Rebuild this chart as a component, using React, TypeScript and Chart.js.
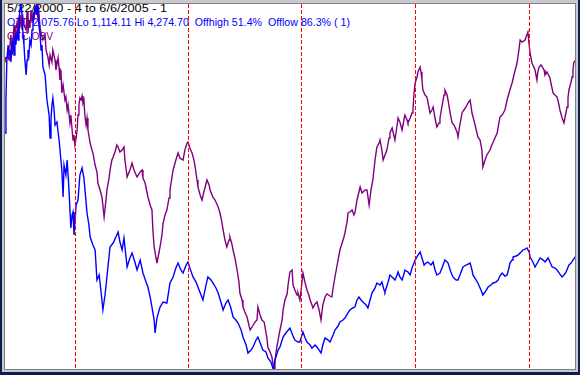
import React, { useEffect, useRef } from "react";
import { Chart, registerables } from "chart.js";

Chart.register(...registerables);

// ---- Text ----
const titleLine = "5/22/2000 - 4 to 6/6/2005 - 1";
const statsLine = "OTC 2,075.76 Lo 1,114.11 Hi 4,274.70  Offhigh 51.4%  Offlow 86.3% ( 1)";
const obvLabel = "OTC OBV";

// ---- Axis ranges ----
const otcLow = 1114.11;
const otcHigh = 4274.7;
const obvLow = 0;
const obvHigh = 366;
const totalDays = 1841; // 5/22/2000 -> 6/6/2005
// Jan 1 of 2001..2005, days after 5/22/2000
const yearStartDays = [224, 589, 954, 1319, 1685];

// ---- OTC (Nasdaq composite) ----
const otcDays = [
  0, 3, 6, 10, 13, 16, 19, 23, 26, 29,
  32, 35, 39, 42, 45, 48, 51, 55, 58, 61,
  64, 68, 71, 74, 77, 80, 84, 87, 90, 93,
  97, 100, 103, 106, 109, 113, 116, 119, 122, 129,
  135, 142, 145, 148, 151, 154, 158, 161, 167, 174,
  180, 183, 187, 190, 196, 200, 206, 212, 216, 219,
  222, 229, 235, 241, 248, 254, 264, 270, 274, 283,
  290, 296, 303, 306, 312, 315, 322, 328, 338, 348,
  357, 364, 370, 377, 383, 393, 402, 409, 418, 425,
  435, 444, 454, 460, 467, 473, 480, 483, 489, 499,
  509, 521, 531, 541, 550, 557, 566, 573, 583, 589,
  595, 605, 615, 621, 631, 637, 647, 653, 663, 669,
  679, 686, 695, 702, 711, 718, 727, 734, 743, 750,
  760, 766, 776, 782, 792, 798, 808, 814, 824, 830,
  840, 846, 856, 863, 869, 879, 885, 895, 904, 917,
  927, 933, 943, 949, 959, 966, 972, 982, 988, 998,
  1004, 1011, 1017, 1023, 1030, 1040, 1046, 1056, 1062, 1072,
  1078, 1088, 1094, 1104, 1110, 1120, 1126, 1133, 1139, 1146,
  1152, 1162, 1168, 1175, 1181, 1191, 1197, 1207, 1213, 1220,
  1223, 1233, 1239, 1249, 1255, 1262, 1265, 1271, 1278, 1284,
  1287, 1297, 1304, 1310, 1320, 1329, 1336, 1342, 1349, 1355,
  1361, 1371, 1378, 1384, 1390, 1400, 1410, 1416, 1423, 1426,
  1435, 1442, 1452, 1458, 1468, 1474, 1484, 1497, 1503, 1506,
  1516, 1522, 1532, 1538, 1545, 1555, 1564, 1571, 1580, 1587,
  1593, 1600, 1609, 1616, 1622, 1625, 1632, 1635, 1645, 1651,
  1661, 1667, 1674, 1680, 1687, 1690, 1699, 1706, 1715, 1722,
  1732, 1738, 1748, 1754, 1761, 1770, 1777, 1786, 1793, 1799,
  1806, 1815, 1822, 1828, 1835, 1841,
];
const otcValues = [
  3152, 3437, 3782, 3912, 3826, 3869, 3765, 3912, 3955, 3826,
  3998, 3912, 4041, 3955, 4128, 4214, 4275, 4171, 3998, 3912,
  3782, 3653, 3782, 3869, 3826, 3955, 3912, 4041, 4085, 4171,
  4231, 4197, 4249, 4171, 4085, 3998, 3869, 3912, 3722, 3653,
  3437, 3307, 3109, 3264, 3394, 3454, 3351, 3221, 3247, 3092,
  2919, 2832, 2599, 2876, 2789, 2919, 2660, 2332, 2444, 2470,
  2271, 2530, 2573, 2789, 2850, 2763, 2461, 2358, 2254, 2185,
  2142, 1883, 1926, 1857, 1710, 1624, 1753, 1909, 2168, 2202,
  2254, 2297, 2211, 2142, 2245, 1995, 2073, 2116, 2038, 1969,
  2055, 1943, 1865, 1822, 1736, 1649, 1537, 1425, 1554, 1649,
  1693, 1684, 1857, 1909, 1986, 2029, 1969, 1943, 2012, 2038,
  1986, 1909, 1865, 1822, 1753, 1710, 1839, 1909, 1883, 1857,
  1814, 1770, 1693, 1624, 1684, 1710, 1641, 1563, 1537, 1511,
  1451, 1390, 1321, 1252, 1278, 1304, 1364, 1390, 1321, 1278,
  1261, 1209, 1174, 1114, 1192, 1278, 1304, 1390, 1425, 1468,
  1399, 1364, 1347, 1347, 1434, 1382, 1347, 1321, 1295, 1321,
  1304, 1278, 1252, 1321, 1382, 1364, 1347, 1408, 1451, 1485,
  1520, 1537, 1554, 1598, 1624, 1641, 1649, 1710, 1736, 1710,
  1693, 1667, 1641, 1710, 1770, 1814, 1857, 1839, 1865, 1796,
  1779, 1865, 1926, 1900, 1883, 1926, 1952, 1909, 1883, 1934,
  1969, 1952, 1926, 1986, 2055, 2098, 2124, 2073, 2012, 2029,
  2038, 2012, 2038, 1969, 1926, 1943, 2012, 2055, 2038, 2029,
  1952, 1909, 1883, 1883, 1952, 1995, 2012, 2029, 1969, 1926,
  1883, 1857, 1796, 1753, 1779, 1822, 1839, 1857, 1865, 1883,
  1917, 1943, 1917, 1926, 1986, 2029, 2055, 2081, 2090, 2098,
  2124, 2142, 2150, 2159, 2124, 2081, 2038, 1995, 2038, 2073,
  2055, 2038, 2073, 2038, 1995, 1986, 1969, 1934, 1909, 1926,
  1952, 2012, 2029, 2055, 2081, 2076,
];

// ---- OTC OBV (relative units) ----
const obvDays = [
  0, 3, 10, 13, 16, 19, 23, 26, 29, 32,
  35, 39, 42, 45, 48, 51, 55, 58, 61, 68,
  71, 74, 77, 80, 84, 87, 90, 93, 97, 100,
  103, 106, 109, 113, 116, 122, 129, 132, 138, 142,
  145, 151, 154, 161, 164, 171, 174, 177, 180, 183,
  187, 193, 196, 200, 203, 209, 212, 216, 219, 222,
  225, 229, 232, 235, 238, 241, 245, 248, 251, 254,
  257, 261, 264, 267, 274, 280, 283, 290, 296, 299,
  306, 312, 315, 319, 325, 328, 335, 338, 344, 348,
  354, 360, 364, 370, 377, 383, 386, 393, 402, 409,
  415, 425, 435, 441, 444, 451, 460, 467, 473, 476,
  480, 486, 489, 496, 499, 505, 509, 515, 521, 528,
  531, 537, 541, 550, 557, 563, 573, 579, 586, 589,
  595, 602, 608, 612, 618, 621, 628, 634, 640, 650,
  657, 660, 669, 676, 686, 692, 698, 702, 708, 714,
  721, 724, 731, 734, 740, 747, 753, 756, 763, 766,
  772, 779, 785, 789, 795, 805, 811, 814, 821, 827,
  834, 843, 846, 853, 859, 863, 866, 869, 875, 879,
  885, 892, 895, 901, 908, 911, 917, 924, 927, 933,
  940, 943, 949, 953, 959, 966, 972, 979, 982, 988,
  991, 998, 1004, 1011, 1017, 1023, 1030, 1036, 1046, 1052,
  1056, 1062, 1069, 1072, 1078, 1085, 1091, 1094, 1101, 1104,
  1110, 1117, 1123, 1126, 1133, 1143, 1149, 1159, 1165, 1172,
  1178, 1184, 1191, 1197, 1204, 1207, 1213, 1217, 1223, 1229,
  1236, 1239, 1246, 1255, 1262, 1265, 1271, 1278, 1284, 1287,
  1294, 1297, 1304, 1310, 1313, 1316, 1320, 1326, 1329, 1336,
  1339, 1342, 1345, 1352, 1358, 1365, 1368, 1374, 1378, 1384,
  1390, 1397, 1400, 1406, 1413, 1416, 1423, 1426, 1432, 1439,
  1445, 1455, 1458, 1464, 1471, 1477, 1484, 1490, 1497, 1503,
  1509, 1519, 1522, 1529, 1535, 1538, 1545, 1551, 1561, 1567,
  1577, 1584, 1593, 1600, 1609, 1616, 1625, 1632, 1638, 1648,
  1654, 1658, 1664, 1674, 1677, 1683, 1687, 1690, 1696, 1706,
  1712, 1715, 1719, 1725, 1735, 1738, 1744, 1754, 1757, 1764,
  1770, 1777, 1783, 1786, 1793, 1799, 1802, 1809, 1812, 1815,
  1822, 1825, 1828, 1831, 1841,
];
const obvValues = [
  312, 309, 314, 309, 324, 334, 314, 329, 344, 324,
  339, 347, 336, 352, 341, 354, 339, 351, 344, 339,
  357, 336, 349, 341, 359, 347, 357, 349, 364, 354,
  366, 351, 357, 341, 336, 329, 334, 319, 312, 304,
  314, 307, 319, 309, 299, 311, 301, 289, 299, 276,
  284, 269, 272, 259, 264, 246, 254, 239, 229, 234,
  224, 231, 239, 254, 264, 271, 269, 273, 266, 269,
  254, 244, 251, 239, 226, 219, 216, 204, 197, 186,
  179, 172, 164, 152, 169, 179, 191, 199, 209, 212,
  217, 224, 222, 217, 219, 222, 209, 192, 199, 206,
  199, 192, 197, 199, 191, 186, 172, 164, 159, 139,
  122, 111, 106, 117, 122, 134, 146, 154, 159, 171,
  179, 191, 199, 209, 216, 211, 209, 219, 226, 227,
  221, 216, 209, 202, 189, 182, 174, 169, 177, 189,
  184, 179, 172, 169, 162, 156, 147, 139, 129, 122,
  129, 132, 124, 119, 111, 99, 87, 76, 69, 62,
  57, 52, 44, 39, 42, 47, 49, 62, 54, 49,
  47, 31, 22, 17, 12, 4, 0, 9, 22, 29,
  39, 49, 59, 69, 75, 84, 97, 99, 84, 79,
  74, 76, 69, 79, 96, 86, 79, 73, 69, 64,
  61, 65, 67, 59, 49, 64, 72, 75, 73, 72,
  81, 92, 104, 109, 119, 126, 132, 136, 147, 156,
  157, 159, 154, 156, 169, 182, 176, 179, 179, 164,
  179, 189, 209, 222, 226, 229, 219, 209, 214, 219,
  231, 236, 241, 229, 244, 251, 247, 239, 249, 254,
  249, 246, 251, 256, 259, 274, 286, 292, 297, 302,
  297, 289, 279, 274, 272, 261, 256, 259, 262, 251,
  242, 246, 251, 262, 274, 279, 274, 269, 257, 246,
  244, 237, 232, 244, 256, 259, 262, 266, 269, 256,
  249, 236, 232, 229, 219, 202, 209, 214, 219, 224,
  231, 236, 252, 254, 259, 269, 279, 286, 294, 306,
  319, 329, 327, 329, 332, 337, 324, 316, 306, 299,
  289, 297, 302, 304, 299, 294, 297, 291, 286, 276,
  274, 272, 264, 259, 251, 246, 251, 262, 271, 279,
  287, 292, 299, 307, 310,
];

// red dashed year separators, drawn as solid 1px red dashes
const yearLinesPlugin = {
  id: "yearLines",
  afterDatasetsDraw(chart: any) {
    const { ctx, chartArea, scales } = chart;
    ctx.save();
    ctx.fillStyle = "#ff0000";
    const dashOn = 4;
    const dashOff = 2;
    yearStartDays.forEach((d) => {
      const x = Math.round(scales.x.getPixelForValue(d));
      for (let y = Math.round(chartArea.top) + 1; y < chartArea.bottom; y += dashOn + dashOff) {
        const h = Math.min(dashOn, chartArea.bottom - y);
        ctx.fillRect(x, y, 1, h);
      }
    });
    ctx.restore();
  },
};

const textFont = "11px 'Liberation Sans', Arial, sans-serif";
// target rendered widths of the three header lines
const titleWidth = 160;
const statsWidth = 343;
const obvLabelWidth = 46;

export default function App() {
  const canvasRef = useRef<HTMLCanvasElement | null>(null);
  const t1 = useRef<HTMLDivElement | null>(null);
  const t2 = useRef<HTMLDivElement | null>(null);
  const t3 = useRef<HTMLDivElement | null>(null);

  useEffect(() => {
    const fit = (el: HTMLDivElement | null, target: number) => {
      if (!el) return;
      const w = el.getBoundingClientRect().width;
      if (w > 0) el.style.transform = `scaleX(${target / w})`;
    };
    fit(t1.current, titleWidth);
    fit(t2.current, statsWidth);
    fit(t3.current, obvLabelWidth);

    if (!canvasRef.current) return;
    const chart = new Chart(canvasRef.current, {
      type: "line",
      data: {
        datasets: [
          {
            label: "OTC",
            data: otcDays.map((d, i) => ({ x: d, y: otcValues[i] })),
            borderColor: "#0000ff",
            borderWidth: 1.4,
            pointRadius: 0,
            tension: 0,
            yAxisID: "y",
            clip: false,
          },
          {
            label: "OTC OBV",
            data: obvDays.map((d, i) => ({ x: d, y: obvValues[i] })),
            borderColor: "#800080",
            borderWidth: 1.4,
            pointRadius: 0,
            tension: 0,
            yAxisID: "y2",
            clip: false,
          },
        ],
      },
      options: {
        responsive: false,
        animation: false,
        devicePixelRatio: 1,
        events: [],
        layout: { padding: { left: 2, right: 2, top: 2, bottom: 2 } },
        plugins: { legend: { display: false }, tooltip: { enabled: false } },
        scales: {
          x: { type: "linear", min: 0, max: totalDays, display: false },
          y: { type: "linear", min: otcLow, max: otcHigh, display: false },
          y2: { type: "linear", min: obvLow, max: obvHigh, display: false, position: "right" },
        },
      },
      plugins: [yearLinesPlugin],
    } as any);
    return () => chart.destroy();
  }, []);

  const textStyle: React.CSSProperties = {
    position: "absolute",
    left: 7,
    font: textFont,
    lineHeight: "14px",
    whiteSpace: "pre",
    transformOrigin: "0 0",
  };

  return (
    <div
      style={{
        position: "fixed",
        left: 0,
        top: 0,
        width: 580,
        height: 375,
        background: "#ffffff",
        overflow: "hidden",
      }}
    >
      <div ref={t1} style={{ ...textStyle, top: 1, color: "#000000" }}>{titleLine}</div>
      <div ref={t2} style={{ ...textStyle, top: 15, color: "#0000ff" }}>{statsLine}</div>
      <div ref={t3} style={{ ...textStyle, top: 29, color: "#800080" }}>{obvLabel}</div>
      <canvas
        ref={canvasRef}
        width={576}
        height={370}
        style={{ position: "absolute", left: 3, top: 1, width: 576, height: 370 }}
      />
      {/* window frame */}
      <div
        style={{
          position: "absolute",
          left: 0,
          top: 0,
          width: 580,
          height: 375,
          boxSizing: "border-box",
          borderLeft: "2px solid #0e1c4e",
          borderRight: "2px solid #0e1c4e",
          borderBottom: "3px solid #0e1c4e",
          pointerEvents: "none",
        }}
      >
        <div
          style={{
            width: "100%",
            height: "100%",
            boxSizing: "border-box",
            borderLeft: "2px solid #c8c8d0",
            borderRight: "2px solid #c8c8d0",
            borderTop: "3px solid #c8c8d0",
            borderBottom: "2px solid #c8c8d0",
          }}
        >
          <div
            style={{
              width: "100%",
              height: "100%",
              boxSizing: "border-box",
              border: "1px solid #808080",
            }}
          />
        </div>
      </div>
    </div>
  );
}
